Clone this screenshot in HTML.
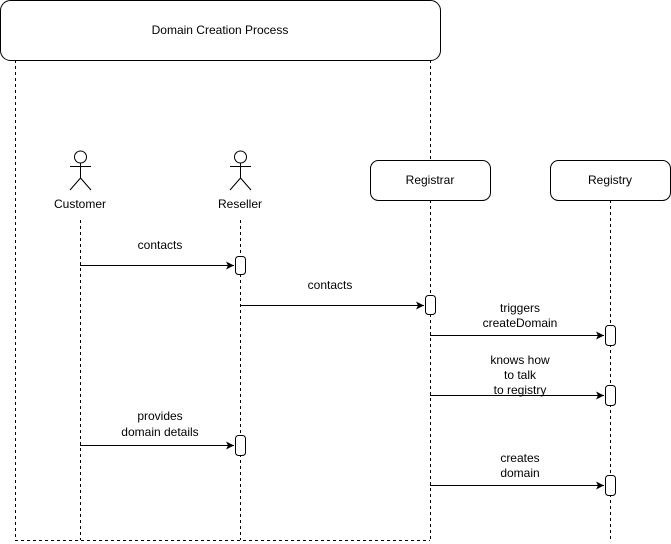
<!DOCTYPE html>
<html><head><style>body{margin:0;background:#fff}svg{display:block}text{font-family:"Liberation Sans",sans-serif;font-size:12px;fill:#000}</style></head>
<body>
<svg width="671" height="544" viewBox="0 0 671 544" xmlns="http://www.w3.org/2000/svg">
<defs><marker id="a" markerWidth="10" markerHeight="10" refX="8" refY="4" orient="auto" markerUnits="userSpaceOnUse"><path d="M0,0 L8,4 L0,8 L2,4 z" fill="#000"/></marker></defs>
<g stroke="#000" fill="none" stroke-dasharray="3,3">
<line x1="15.5" y1="60" x2="15.5" y2="540"/>
<line x1="15" y1="540.5" x2="430" y2="540.5"/>
<line x1="430.5" y1="60" x2="430.5" y2="160"/>
<line x1="430.5" y1="200" x2="430.5" y2="540"/>
<line x1="610.5" y1="200" x2="610.5" y2="540"/>
<line x1="80.5" y1="220" x2="80.5" y2="540"/>
<line x1="240.5" y1="220" x2="240.5" y2="540"/>
</g>
<rect x="0.5" y="0.5" width="440" height="60" rx="10" fill="#fff" stroke="#000"/>
<text x="220" y="34" text-anchor="middle">Domain Creation Process</text>
<g stroke="#000" fill="none">
<circle cx="80.5" cy="157" r="6"/><line x1="80.5" y1="163" x2="80.5" y2="178"/><line x1="70" y1="166.5" x2="91" y2="166.5"/><line x1="80.5" y1="178" x2="70" y2="190"/><line x1="80.5" y1="178" x2="91" y2="190"/>
<circle cx="240.5" cy="157" r="6"/><line x1="240.5" y1="163" x2="240.5" y2="178"/><line x1="230" y1="166.5" x2="251" y2="166.5"/><line x1="240.5" y1="178" x2="230" y2="190"/><line x1="240.5" y1="178" x2="251" y2="190"/>
</g>
<text x="80" y="208" text-anchor="middle">Customer</text>
<text x="240" y="208" text-anchor="middle">Reseller</text>
<rect x="370.5" y="160.5" width="120" height="40" rx="8" fill="#fff" stroke="#000"/>
<text x="430" y="184" text-anchor="middle">Registrar</text>
<rect x="550.5" y="160.5" width="120" height="40" rx="8" fill="#fff" stroke="#000"/>
<text x="610" y="184" text-anchor="middle">Registry</text>
<g stroke="#000" fill="#fff">
<rect x="235.5" y="256.5" width="10" height="18" rx="3"/>
<rect x="425.5" y="295.5" width="10" height="19" rx="3"/>
<rect x="605.5" y="325.5" width="10" height="20" rx="3"/>
<rect x="605.5" y="385.5" width="10" height="20" rx="3"/>
<rect x="235.5" y="435.5" width="10" height="20" rx="3"/>
<rect x="605.5" y="475.5" width="10" height="20" rx="3"/>
</g>
<g stroke="#000" marker-end="url(#a)">
<line x1="80" y1="265.5" x2="234" y2="265.5"/>
<line x1="240" y1="305.5" x2="424" y2="305.5"/>
<line x1="430" y1="335.5" x2="604" y2="335.5"/>
<line x1="430" y1="395.5" x2="604" y2="395.5"/>
<line x1="80" y1="445.5" x2="234" y2="445.5"/>
<line x1="430" y1="485.5" x2="604" y2="485.5"/>
</g>
<g text-anchor="middle">
<text x="160" y="249">contacts</text>
<text x="330" y="289">contacts</text>
<text x="520" y="312">triggers</text><text x="520" y="327">createDomain</text>
<text x="520" y="364">knows how</text><text x="520" y="379">to talk</text><text x="520" y="394">to registry</text>
<text x="160" y="420">provides</text><text x="160" y="436">domain details</text>
<text x="520" y="462">creates</text><text x="520" y="477">domain</text>
</g>
</svg>
</body></html>
